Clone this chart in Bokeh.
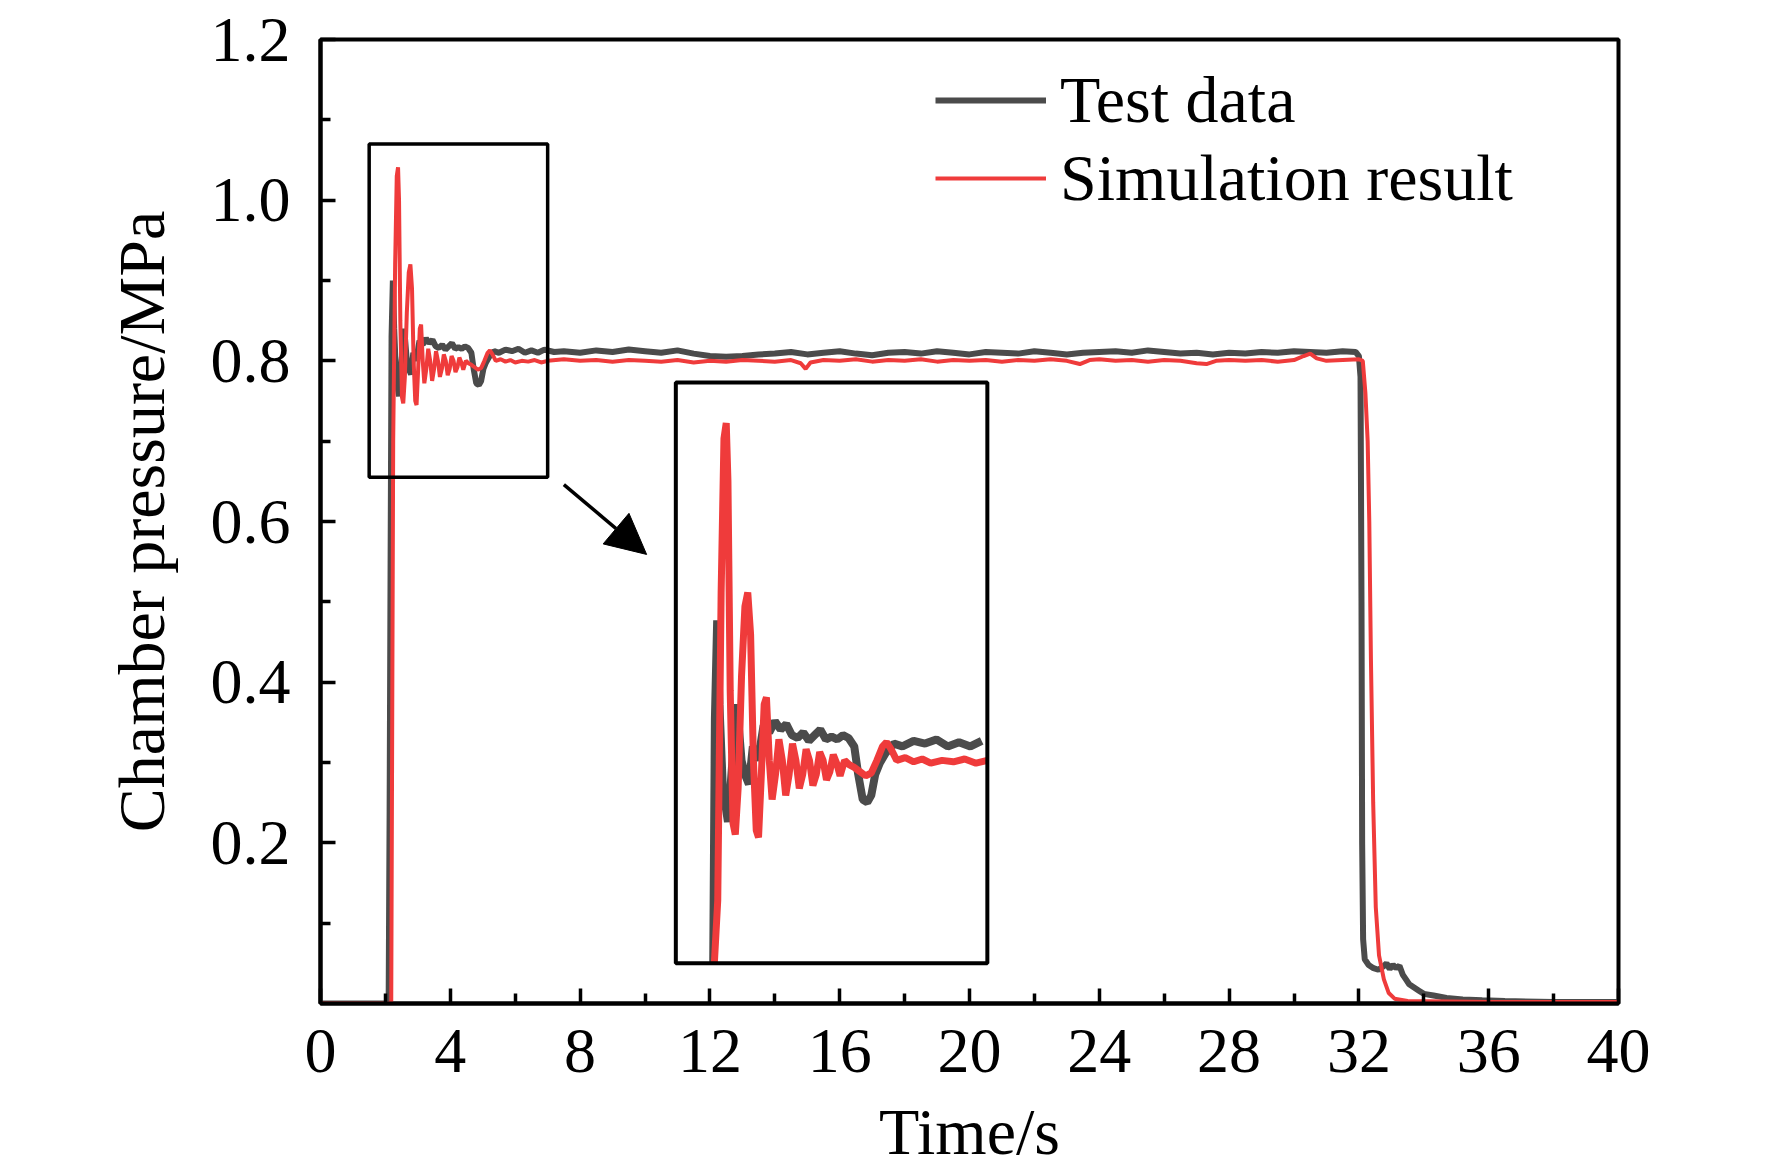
import numpy as np
from bokeh.plotting import figure
from bokeh.models import (Range1d, FixedTicker, PrintfTickFormatter, Legend, LegendItem,
                          BoxAnnotation, Arrow, NormalHead)
from bokeh.embed import file_html
from bokeh.resources import INLINE

FONT = "Liberation Serif"
GREY = "#4b4b4b"
RED = "#ef3b3b"

# test data (grey)
test_t = [0.0, 2.10, 2.13, 2.16, 2.19, 2.23, 2.27, 2.33, 2.42, 2.50, 2.58, 2.66, 2.72, 2.79,
          2.86, 2.95, 3.05, 3.15, 3.25, 3.35, 3.45, 3.55, 3.65, 3.75, 3.85, 3.95, 4.05, 4.15,
          4.25, 4.35, 4.45, 4.55, 4.65, 4.72, 4.80, 4.88, 4.95, 5.02, 5.10, 5.20, 5.35, 5.5,
          5.7, 5.9, 6.1, 6.3, 6.5, 6.7, 6.9, 7.2, 7.5, 8.0, 8.5, 9.0, 9.5, 10.0, 10.5, 11.0,
          11.5, 12.0, 12.5, 13.0, 13.5, 14.0, 14.5, 15.0, 15.5, 16.0, 16.5, 17.0, 17.5, 18.0,
          18.5, 19.0, 19.5, 20.0, 20.5, 21.0, 21.5, 22.0, 22.5, 23.0, 23.5, 24.0, 24.5, 25.0,
          25.5, 26.0, 26.5, 27.0, 27.5, 28.0, 28.5, 29.0, 29.5, 30.0, 30.5, 31.0, 31.5, 31.9,
          32.0, 32.05, 32.08, 32.10, 32.13, 32.18, 32.3, 32.45, 32.6, 32.75, 32.85, 32.95,
          33.05, 33.15, 33.25, 33.35, 33.45, 33.55, 33.7, 33.85, 34.0, 34.3, 34.7, 35.2, 35.8,
          36.5, 38.0, 40.0]
test_p = [0.0, 0.0, 0.24, 0.55, 0.83, 0.90, 0.84, 0.78, 0.756, 0.80, 0.84, 0.80, 0.79, 0.783,
          0.81, 0.80, 0.825, 0.82, 0.828, 0.822, 0.826, 0.818, 0.816, 0.82, 0.814, 0.818, 0.822,
          0.815, 0.817, 0.815, 0.818, 0.816, 0.81, 0.79, 0.772, 0.770, 0.775, 0.79, 0.798,
          0.805, 0.812, 0.81, 0.814, 0.812, 0.815, 0.81, 0.813, 0.81, 0.814, 0.811, 0.812,
          0.810, 0.813, 0.811, 0.814, 0.812, 0.810, 0.813, 0.809, 0.806, 0.805, 0.806, 0.808,
          0.809, 0.811, 0.808, 0.810, 0.812, 0.809, 0.807, 0.810, 0.811, 0.809, 0.812, 0.810,
          0.808, 0.811, 0.810, 0.809, 0.812, 0.810, 0.808, 0.810, 0.811, 0.812, 0.810, 0.813,
          0.811, 0.809, 0.810, 0.808, 0.810, 0.809, 0.811, 0.810, 0.812, 0.811, 0.810, 0.812,
          0.811, 0.806, 0.78, 0.50, 0.20, 0.08, 0.055, 0.048, 0.044, 0.042, 0.046, 0.05, 0.043,
          0.048, 0.044, 0.047, 0.036, 0.030, 0.024, 0.020, 0.016, 0.012, 0.010, 0.007, 0.005,
          0.004, 0.003, 0.002, 0.002]

# simulation result (red)
sim_t = [0.0, 2.18, 2.24, 2.30, 2.35, 2.39, 2.42, 2.46, 2.51, 2.55, 2.60, 2.66, 2.72, 2.77,
         2.82, 2.87, 2.92, 2.96, 3.01, 3.06, 3.10, 3.15, 3.20, 3.26, 3.32, 3.38, 3.44, 3.50,
         3.56, 3.62, 3.68, 3.74, 3.80, 3.86, 3.92, 3.98, 4.04, 4.10, 4.16, 4.22, 4.28, 4.34,
         4.40, 4.48, 4.56, 4.65, 4.75, 4.85, 4.95, 5.05, 5.15, 5.22, 5.30, 5.40, 5.55, 5.7,
         5.85, 6.0, 6.2, 6.4, 6.6, 6.8, 7.0, 7.5, 8.0, 8.5, 9.0, 9.5, 10.0, 10.5, 11.0, 11.5,
         12.0, 12.5, 13.0, 13.5, 14.0, 14.5, 14.8, 14.95, 15.1, 15.5, 16.0, 16.5, 17.0, 17.5,
         18.0, 18.5, 19.0, 19.5, 20.0, 20.5, 21.0, 21.5, 22.0, 22.5, 23.0, 23.4, 23.7, 24.0,
         24.5, 25.0, 25.5, 26.0, 26.5, 27.0, 27.3, 27.6, 28.0, 28.5, 29.0, 29.5, 30.0, 30.3,
         30.5, 30.7, 31.0, 31.5, 32.0, 32.12, 32.2, 32.27, 32.32, 32.37, 32.44, 32.52, 32.62,
         32.77, 32.92, 33.1, 33.5, 36.0, 40.0]
sim_p = [0.0, 0.0, 0.70, 0.92, 1.03, 1.041, 1.00, 0.85, 0.755, 0.747, 0.78, 0.86, 0.91, 0.920,
         0.89, 0.80, 0.75, 0.745, 0.79, 0.84, 0.845, 0.80, 0.772, 0.79, 0.815, 0.80, 0.775,
         0.79, 0.812, 0.80, 0.78, 0.79, 0.808, 0.80, 0.782, 0.79, 0.806, 0.80, 0.786, 0.792,
         0.804, 0.798, 0.789, 0.80, 0.797, 0.795, 0.792, 0.789, 0.791, 0.80, 0.810, 0.813,
         0.808, 0.80, 0.802, 0.799, 0.801, 0.798, 0.80, 0.799, 0.801, 0.798, 0.80, 0.802,
         0.800, 0.801, 0.799, 0.801, 0.800, 0.799, 0.801, 0.798, 0.800, 0.799, 0.801, 0.800,
         0.799, 0.801, 0.797, 0.790, 0.798, 0.801, 0.800, 0.802, 0.799, 0.801, 0.800, 0.802,
         0.799, 0.801, 0.800, 0.801, 0.799, 0.801, 0.800, 0.802, 0.800, 0.796, 0.801, 0.802,
         0.800, 0.801, 0.799, 0.801, 0.800, 0.797, 0.796, 0.800, 0.801, 0.800, 0.801, 0.799,
         0.801, 0.806, 0.809, 0.803, 0.800, 0.801, 0.802, 0.80, 0.76, 0.70, 0.60, 0.43, 0.25,
         0.12, 0.06, 0.030, 0.013, 0.006, 0.003, 0.002, 0.002]

x_ticks = [0, 4, 8, 12, 16, 20, 24, 28, 32, 36, 40]
x_minor = [2, 6, 10, 14, 18, 22, 26, 30, 34, 38]
y_ticks = [0.2, 0.4, 0.6, 0.8, 1.0, 1.2]
y_minor = [0.1, 0.3, 0.5, 0.7, 0.9, 1.1]

# zoomed window (small box) and where it is blown up (big box), in data units
src_box = (1.5, 7.0, 0.655, 1.07)
dst_box = (10.95, 20.55, 0.05, 0.773)

p = figure(width=1772, height=1174, x_range=Range1d(0, 40), y_range=Range1d(0, 1.2),
           output_backend="svg", toolbar_location=None,
           min_border_left=320, min_border_right=154, min_border_top=39, min_border_bottom=171)
p.xgrid.visible = False
p.ygrid.visible = False
p.outline_line_color = "black"
p.outline_line_width = 4

p.xaxis.ticker = FixedTicker(ticks=x_ticks, minor_ticks=x_minor)
p.yaxis.ticker = FixedTicker(ticks=y_ticks, minor_ticks=y_minor)
p.yaxis.formatter = PrintfTickFormatter(format="%.1f")
p.xaxis.axis_label = "Time/s"
p.yaxis.axis_label = "Chamber pressure/MPa"
for ax in (p.xaxis[0], p.yaxis[0]):
    ax.axis_line_width = 4
    ax.major_tick_in = 15
    ax.major_tick_out = 0
    ax.minor_tick_in = 10
    ax.minor_tick_out = 0
    ax.major_tick_line_width = 3.5
    ax.minor_tick_line_width = 3.5
    ax.major_label_text_font = FONT
    ax.major_label_text_font_size = "64px"
    ax.major_label_text_color = "black"
    ax.axis_label_text_font = FONT
    ax.axis_label_text_font_size = "66px"
    ax.axis_label_text_font_style = "normal"
    ax.axis_label_text_color = "black"
p.xaxis.major_label_standoff = 26
p.xaxis.axis_label_standoff = 20
p.yaxis.major_label_standoff = 30
p.yaxis.axis_label_standoff = 30

# main curves
g_line = p.line(test_t, test_p, line_color=GREY, line_width=6)
r_line = p.line(sim_t, sim_p, line_color=RED, line_width=4)


# inset: same data through a second pair of ranges that blows up src_box onto dst_box
def zoom_range(lo, hi, s_lo, s_hi, d_lo, d_hi):
    k = (s_hi - s_lo) / (d_hi - d_lo)
    return Range1d(s_lo + (lo - d_lo) * k, s_lo + (hi - d_lo) * k)


p.extra_x_ranges = {"zoom": zoom_range(0, 40, src_box[0], src_box[1], dst_box[0], dst_box[1])}
p.extra_y_ranges = {"zoom": zoom_range(0, 1.2, src_box[2], src_box[3], dst_box[2], dst_box[3])}


def clip_to_box(t, v):
    t = np.asarray(t)
    v = np.asarray(v)
    m = (t >= src_box[0]) & (t <= src_box[1])
    t, v = t[m], v[m]
    start = max(int(np.argmax(v >= src_box[2])) - 1, 0)
    return t[start:], np.clip(v[start:], src_box[2], src_box[3])


zt, zp = clip_to_box(test_t, test_p)
p.line(zt, zp, line_color=GREY, line_width=8, x_range_name="zoom", y_range_name="zoom")
zt, zp = clip_to_box(sim_t, sim_p)
p.line(zt, zp, line_color=RED, line_width=7, x_range_name="zoom", y_range_name="zoom")

p.add_layout(BoxAnnotation(left=src_box[0], right=src_box[1], bottom=src_box[2], top=src_box[3],
                           fill_alpha=0, line_color="black", line_alpha=1, line_width=3.5))
p.add_layout(BoxAnnotation(left=dst_box[0], right=dst_box[1], bottom=dst_box[2], top=dst_box[3],
                           fill_alpha=0, line_color="black", line_alpha=1, line_width=4))
p.add_layout(Arrow(end=NormalHead(size=40, fill_color="black", line_color="black"),
                   x_start=7.5, y_start=0.646, x_end=10.05, y_end=0.559,
                   line_color="black", line_width=3.5))

legend = Legend(items=[LegendItem(label="Test data", renderers=[g_line]),
                       LegendItem(label="Simulation result", renderers=[r_line])],
                location=(615, 786), padding=0, margin=0, spacing=0,
                glyph_width=111, glyph_height=78, label_height=78, label_standoff=14,
                label_text_font=FONT, label_text_font_size="66px", label_text_color="black",
                border_line_color=None, background_fill_alpha=0)
p.add_layout(legend)

open("out.html", "w").write(file_html(p, INLINE))
